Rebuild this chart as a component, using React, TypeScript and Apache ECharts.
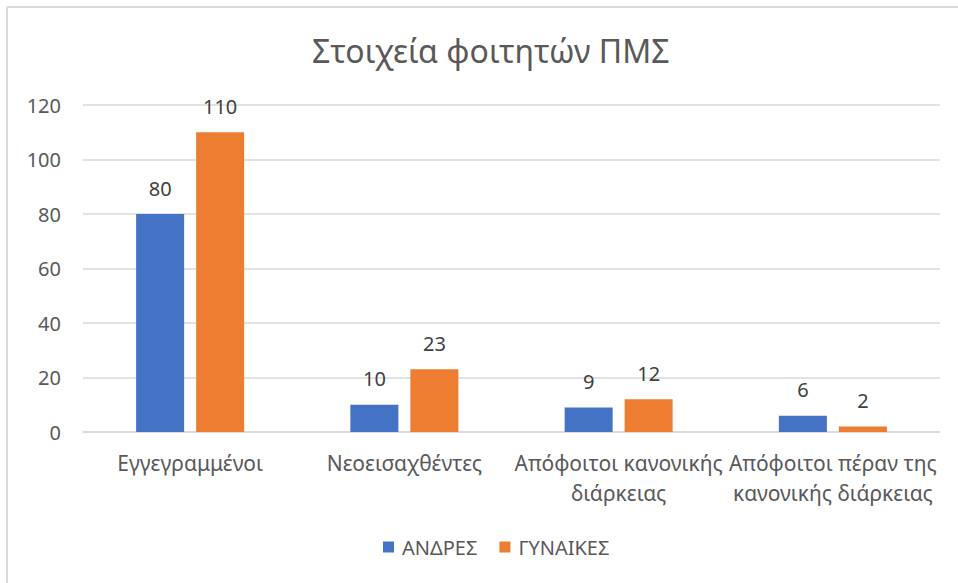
import React, { useEffect, useRef } from "react";
import * as echarts from "echarts";

const categories = [
  "Εγγεγραμμένοι",
  "Νεοεισαχθέντες",
  "Απόφοιτοι κανονικής\nδιάρκειας",
  "Απόφοιτοι πέραν της\nκανονικής διάρκειας",
];
const men = [80, 10, 9, 6];
const women = [110, 23, 12, 2];
const seriesNames = ["ΑΝΔΡΕΣ", "ΓΥΝΑΙΚΕΣ"];
const titleText = "Στοιχεία φοιτητών ΠΜΣ";

const FONT = "'Noto Sans', 'Open Sans', sans-serif";

export default function App() {
  const ref = useRef<HTMLDivElement>(null);
  useEffect(() => {
    if (!ref.current) return;
    const chart = echarts.init(ref.current, null, { renderer: "svg" });
    const label = {
      show: true,
      position: "top" as const,
      distance: 16,
      color: "#404040",
      fontSize: 20,
      fontFamily: FONT,
    };
    chart.setOption({
      animation: false,
      backgroundColor: "#ffffff",
      title: {
        text: titleText,
        left: 307,
        top: 29,
        textStyle: {
          color: "#595959",
          fontSize: 32,
          fontWeight: "normal",
          fontFamily: FONT,
        },
      },
      legend: {
        data: seriesNames,
        left: 378,
        top: 532,
        itemWidth: 11,
        itemHeight: 11,
        itemGap: 22,
        icon: "rect",
        textStyle: {
          color: "#595959",
          fontSize: 20,
          fontFamily: FONT,
          padding: [0, 0, 0, 3],
        },
      },
      grid: { left: 83, right: 18, top: 105, bottom: 151, containLabel: false },
      xAxis: {
        type: "category",
        data: categories,
        axisLine: { lineStyle: { color: "#d9d9d9", width: 1.5 } },
        axisTick: { show: false },
        axisLabel: {
          color: "#595959",
          fontSize: 21,
          fontFamily: FONT,
          lineHeight: 30,
          margin: 16,
          interval: 0,
        },
      },
      yAxis: {
        type: "value",
        min: 0,
        max: 120,
        interval: 20,
        axisLine: { show: false },
        axisTick: { show: false },
        splitLine: { lineStyle: { color: "#d9d9d9", width: 1.5 } },
        axisLabel: {
          color: "#595959",
          fontSize: 20,
          fontFamily: FONT,
          margin: 22,
        },
      },
      graphic: [
        {
          type: "line",
          shape: { x1: 7, y1: 7, x2: 958, y2: 7 },
          style: { stroke: "#d9d9d9", lineWidth: 2 },
        },
        {
          type: "line",
          shape: { x1: 7, y1: 7, x2: 7, y2: 583 },
          style: { stroke: "#d9d9d9", lineWidth: 2 },
        },
      ],
      series: [
        {
          name: seriesNames[0],
          type: "bar",
          data: men,
          barWidth: 48,
          barGap: "25%",
          itemStyle: { color: "#4472c4" },
          label,
        },
        {
          name: seriesNames[1],
          type: "bar",
          data: women,
          barWidth: 48,
          itemStyle: { color: "#ed7d31" },
          label,
        },
      ],
    });
    return () => chart.dispose();
  }, []);
  return (
    <div
      ref={ref}
      style={{ position: "absolute", left: 0, top: 0, width: 958, height: 583 }}
    />
  );
}
